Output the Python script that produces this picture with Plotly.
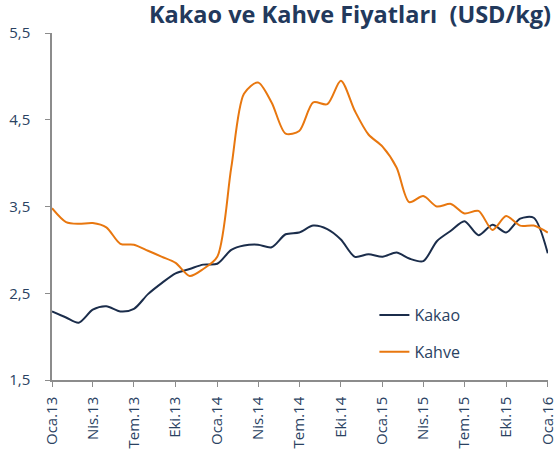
import plotly.graph_objects as go

# monthly observations, Jan 2013 - Jan 2016
months = [f"{y}-{m:02d}-01" for y in (2013, 2014, 2015) for m in range(1, 13)] + ["2016-01-01"]

kakao = [2.29, 2.22, 2.16, 2.31, 2.35, 2.29, 2.32, 2.49, 2.62, 2.73, 2.78, 2.83,
         2.84, 3.00, 3.05, 3.06, 3.03, 3.18, 3.20, 3.28, 3.24, 3.12, 2.92, 2.95,
         2.92, 2.97, 2.90, 2.87, 3.10, 3.22, 3.33, 3.17, 3.29, 3.20, 3.36, 3.37,
         2.96]

kahve = [3.48, 3.32, 3.30, 3.31, 3.26, 3.07, 3.06, 2.99, 2.92, 2.85, 2.70, 2.78,
         2.92, 3.95, 4.80, 4.93, 4.70, 4.34, 4.37, 4.70, 4.68, 4.95, 4.60, 4.33,
         4.19, 3.95, 3.55, 3.62, 3.50, 3.53, 3.42, 3.45, 3.23, 3.39, 3.28, 3.28,
         3.20]

tick_dates = months[::3]
tick_labels = ["Oca.13", "Nis.13", "Tem.13", "Eki.13", "Oca.14", "Nis.14", "Tem.14",
               "Eki.14", "Oca.15", "Nis.15", "Tem.15", "Eki.15", "Oca.16"]

y_ticks = [1.5, 2.5, 3.5, 4.5, 5.5]
y_labels = ["1,5", "2,5", "3,5", "4,5", "5,5"]

navy = "#1b2d4b"
orange = "#e8770f"
text_col = "#2a4262"
axis_col = "#8c8c8c"

fig = go.Figure()
fig.add_trace(go.Scatter(x=months, y=kakao, name="Kakao", mode="lines",
                         line=dict(color=navy, width=2, shape="spline", smoothing=0.8),
                         legendgroup="a", cliponaxis=False))
fig.add_trace(go.Scatter(x=months, y=kahve, name="Kahve", mode="lines",
                         line=dict(color=orange, width=2, shape="spline", smoothing=0.8),
                         legendgroup="b", cliponaxis=False))

fig.update_layout(
    width=554, height=461,
    margin=dict(l=52, r=6, t=33, b=81),
    paper_bgcolor="white", plot_bgcolor="white",
    font=dict(family="Open Sans", color=text_col, size=15),
    legend=dict(x=0.65, y=0.236, xanchor="left", yanchor="top",
                font=dict(size=16, color=text_col), tracegroupgap=13,
                traceorder="grouped", bgcolor="rgba(0,0,0,0)"),
)

fig.add_annotation(text="<b>Kakao ve Kahve Fiyatları  (USD/kg)</b>",
                   xref="paper", yref="paper", x=1, y=1, xshift=4, yshift=2,
                   xanchor="right", yanchor="bottom", showarrow=False, borderpad=0,
                   font=dict(size=23.5, color="#22395c", family="Open Sans"))

fig.update_xaxes(
    range=["2013-01-01", "2016-01-01 12:00"],
    tickvals=tick_dates, ticktext=tick_labels, tickangle=-90,
    showgrid=False, zeroline=False, automargin=False,
    showline=True, linecolor=axis_col, linewidth=1.5,
    ticks="outside", ticklen=5, tickcolor=axis_col, ticklabeloverflow="allow",
    tickfont=dict(size=15, color=text_col), ticklabelstandoff=4,
)
fig.update_yaxes(
    range=[1.5, 5.5], tickvals=y_ticks, ticktext=y_labels,
    showgrid=False, zeroline=False, automargin=False,
    showline=True, linecolor=axis_col, linewidth=1.5,
    ticks="outside", ticklen=5, tickcolor=axis_col,
    tickfont=dict(size=15, color=text_col), ticklabelstandoff=12,
)

# drop the default 8px page margin so the figure fills the window
fig.write_html("out.html", config={"displayModeBar": False},
               post_script="document.body.style.margin='0';")
